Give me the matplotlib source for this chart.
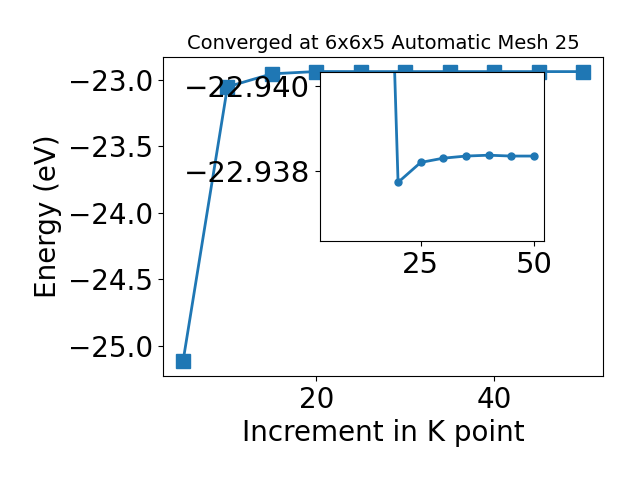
import matplotlib
matplotlib.use('Agg')
import matplotlib.pyplot as plt

# k-point increment and total energy (eV)
kpoints = [5, 10, 15, 20, 25, 30, 35, 40, 45, 50]
energy = [-25.12, -23.053, -22.955, -22.93773, -22.93820, -22.93830,
          -22.93835, -22.93837, -22.93835, -22.93835]

main_xticks = [20, 40]
inset_xticks = [25, 50]
inset_yticks = [-22.940, -22.938]

fig = plt.figure(figsize=(6.4, 4.8), dpi=100)
ax = fig.add_axes([0.2547, 0.2167, 0.6875, 0.6645])
ax.plot(kpoints, energy, marker='s', markersize=10, linewidth=2)
ax.set_xlabel('Increment in K point', fontsize=20)
ax.set_ylabel('Energy (eV)', fontsize=20)
ax.set_title('Converged at 6x6x5 Automatic Mesh 25', fontsize=14)
ax.set_xticks(main_xticks)
ax.tick_params(labelsize=20)

# zoomed inset of the converged region
ins = fig.add_axes([0.5, 0.498, 0.35, 0.352])
ins.plot(kpoints, energy, marker='o', markersize=5, linewidth=2)
ins.set_ylim(-22.93635, -22.94033)
ins.set_xticks(inset_xticks)
ins.set_yticks(inset_yticks)
ins.tick_params(labelsize=21)

fig.savefig('out.png', dpi=100)
